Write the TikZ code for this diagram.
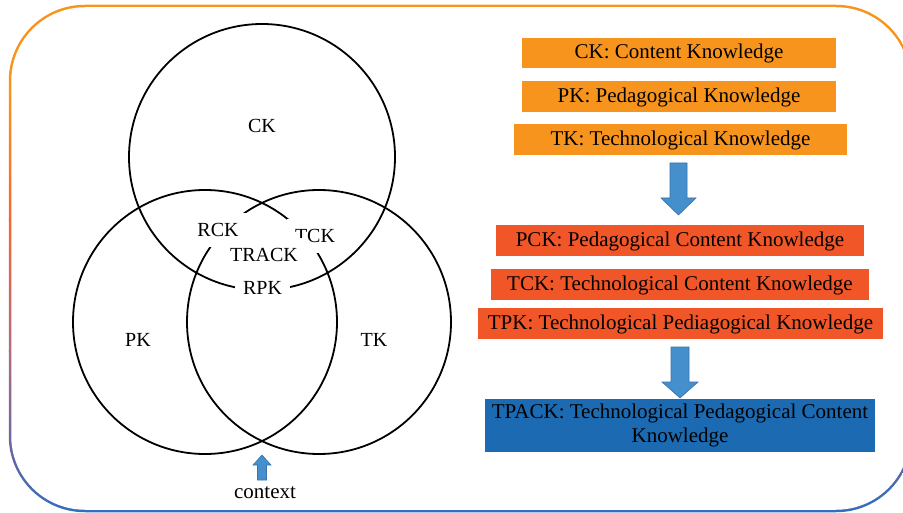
\documentclass[tikz,border=0pt]{standalone}
\usepackage{fontspec}
\setmainfont{Liberation Serif}
\usetikzlibrary{calc}
\definecolor{korange}{RGB}{247,148,30}
\definecolor{kred}{RGB}{241,86,40}
\definecolor{kblue}{RGB}{28,106,178}
\definecolor{arrfill}{RGB}{70,143,205}
\definecolor{arrline}{RGB}{55,115,175}
\definecolor{bordA}{RGB}{247,148,30}
\definecolor{bordB}{RGB}{243,104,48}
\definecolor{bordC}{RGB}{175,108,128}
\definecolor{bordD}{RGB}{105,102,160}
\definecolor{bordE}{RGB}{50,110,190}
\newcommand{\blockarr}[5]{%
  \draw[blockarrow] ($(#1)+(-#3,0)$) -- ($(#1)+(#3,0)$) -- ($(#2)+(#3,#5)$) -- ($(#2)+(#4,#5)$) -- (#2) -- ($(#2)+(-#4,#5)$) -- ($(#2)+(-#3,#5)$) -- cycle;}
\tikzset{
  venn/.style={circle, draw=black, line width=1.8pt, inner sep=0pt, minimum size=#1},
  vlab/.style={fill=white, inner xsep=8pt, inner ysep=10pt, text height=13.5pt, text depth=0pt, font=\fontsize{20}{24}\selectfont, anchor=base},
  kbox/.style={inner sep=0pt, font=\fontsize{21}{24}\selectfont, text=black, text height=12pt, text depth=0pt},
  blockarrow/.style={fill=arrfill, draw=arrline, line width=0.6pt, line join=miter}
}
\begin{document}
\begin{tikzpicture}[x=1pt,y=-1pt]
\useasboundingbox (0,0) rectangle (903,513);
% gradient border
\begin{scope}
  \clip (0,0) rectangle (903,513);
  \begin{scope}
    \clip[rounded corners=76.25pt] (8.75,4.75) rectangle (912.25,512.25);
    \fill[bordA] (0,0) rectangle (903,91);
    \shade[top color=bordA, bottom color=bordB] (0,90) rectangle (903,221);
    \shade[top color=bordB, bottom color=bordC] (0,220) rectangle (903,351);
    \shade[top color=bordC, bottom color=bordD] (0,350) rectangle (903,451);
    \shade[top color=bordD, bottom color=bordE] (0,450) rectangle (903,513);
  \end{scope}
  \fill[white, rounded corners=73.75pt] (11.25,7.25) rectangle (909.75,509.75);
\end{scope}
% Venn circles
\node[venn=266pt] (vck) at (262,157) {};
\node[venn=264pt] (vpk) at (205,322) {};
\node[venn=264pt] (vtk) at (319,322) {};
% labels
\node[vlab] (lrck) at (218,237) {RCK};
\node[vlab] (ltck) at (315,243) {TCK};
\node[vlab] (ltrack) at (264,262) {TRACK};
\node[vlab] (lrpk) at (262.5,295) {RPK};
\node[vlab, fill=none] (lck) at (262,133) {CK};
\node[vlab, fill=none] (lpk) at (138,346) {PK};
\node[vlab, fill=none] (ltk) at (374,346) {TK};
\node[font=\fontsize{21}{24}\selectfont, anchor=base, inner sep=0pt] (lcontext) at (265,498) {context};
% context arrow
\coordinate (carrbot) at (262,480);
\coordinate (carrtip) at (262,455);
\blockarr{carrbot}{carrtip}{4.5}{9}{10}
% knowledge boxes
\node[kbox, fill=korange, minimum width=314pt, minimum height=30pt] (ck) at (679,53) {CK: Content Knowledge};
\node[kbox, fill=korange, minimum width=314pt, minimum height=31pt] (pk) at (679,96.5) {PK: Pedagogical Knowledge};
\node[kbox, fill=korange, minimum width=333pt, minimum height=31pt] (tk) at (680.5,139.5) {TK: Technological Knowledge};
\node[kbox, fill=kred, minimum width=368pt, minimum height=31pt] (pck) at (680,240.5) {PCK: Pedagogical Content Knowledge};
\node[kbox, fill=kred, minimum width=378pt, minimum height=31pt] (tck) at (680,284.5) {TCK: Technological Content Knowledge};
\node[kbox, fill=kred, minimum width=405pt, minimum height=31pt] (tpk) at (680.5,323.5) {TPK: Technological Pediagogical Knowledge};
\node[inner sep=0pt, font=\fontsize{21}{24}\selectfont, text=black, fill=kblue, minimum width=390pt, minimum height=53pt, align=center] (tpack) at (680,425.5) {TPACK: Technological Pedagogical Content\\Knowledge};
% block arrows
\coordinate (a1top) at (678.5,163);
\coordinate (a1tip) at (678.5,215);
\blockarr{a1top}{a1tip}{8.5}{17.5}{-17}
\coordinate (a2top) at (680,347);
\coordinate (a2tip) at (680,398);
\blockarr{a2top}{a2tip}{9}{18}{-16}
\end{tikzpicture}
\end{document}
